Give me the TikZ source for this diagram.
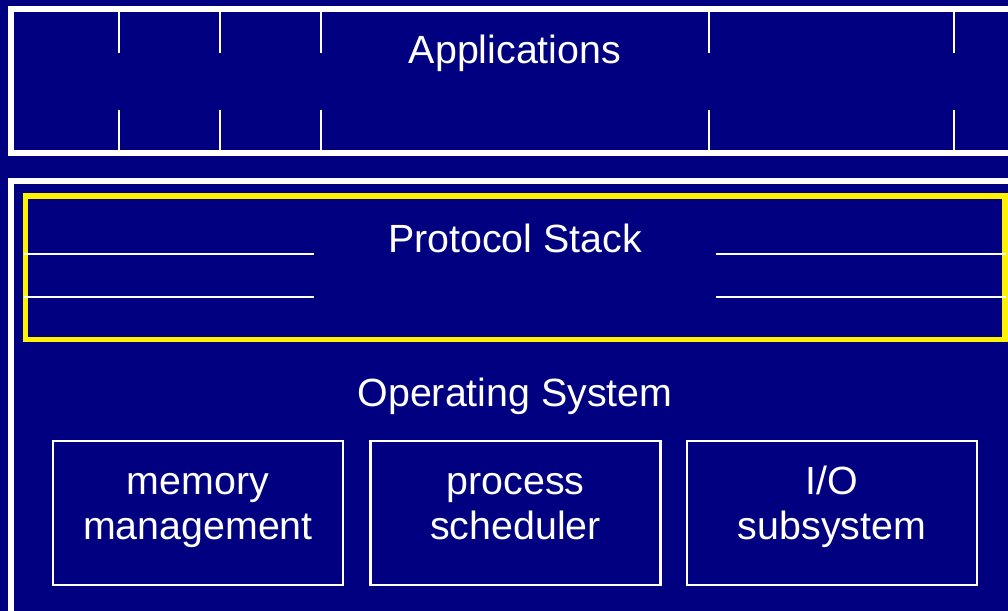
\documentclass[tikz,border=0pt]{standalone}
\usepackage{fontspec}
\setmainfont{Liberation Sans}
\usetikzlibrary{positioning}
\definecolor{navy}{RGB}{0,0,128}

\begin{document}
\begin{tikzpicture}[
    x=0.02cm, y=-0.02cm,
    lbl/.style={text=white, font=\fontsize{22.4}{25.8}\selectfont, align=center},
    layer/.style={draw=white, line width=3.4pt},
    stackbox/.style={draw=yellow, line width=3.4pt},
    unit/.style={rectangle, draw=white, line width=1.2pt, minimum width=5.8cm, minimum height=2.88cm},
    thin/.style={white, line width=1.2pt}
]

\fill[navy] (0,0) rectangle (1008,611);
\clip (0,0) rectangle (1008,611);

% applications layer
\draw[layer] (11,9) rectangle (1030,153);
\foreach \x in {119,220,321,709,954} {
  \draw[thin] (\x,9) -- (\x,53);
  \draw[thin] (\x,110) -- (\x,153);
}
\node[lbl] (apps) at (515,53) {Applications};

% operating system layer
\draw[layer] (11,181) rectangle (1030,640);
\draw[stackbox] (25.5,196) rectangle (1005,339.5);
\foreach \y in {254,297} {
  \draw[thin] (24,\y) -- (314,\y);
  \draw[thin] (716,\y) -- (1006,\y);
}
\node[lbl] (stack) at (515,238) {Protocol Stack};
\node[lbl] (os) at (515,396) {Operating System};

\node[unit] (memory) at (198,513) {};
\node[unit] (process) at (515.5,513) {};
\node[unit] (io) at (832,513) {};

\node[lbl, yshift=0.1cm] at (memory) {\strut memory\\\strut management};
\node[lbl, yshift=0.1cm] at (process) {\strut process\\\strut scheduler};
\node[lbl, yshift=0.1cm] at (io) {\strut I/O\\\strut subsystem};

\end{tikzpicture}
\end{document}
